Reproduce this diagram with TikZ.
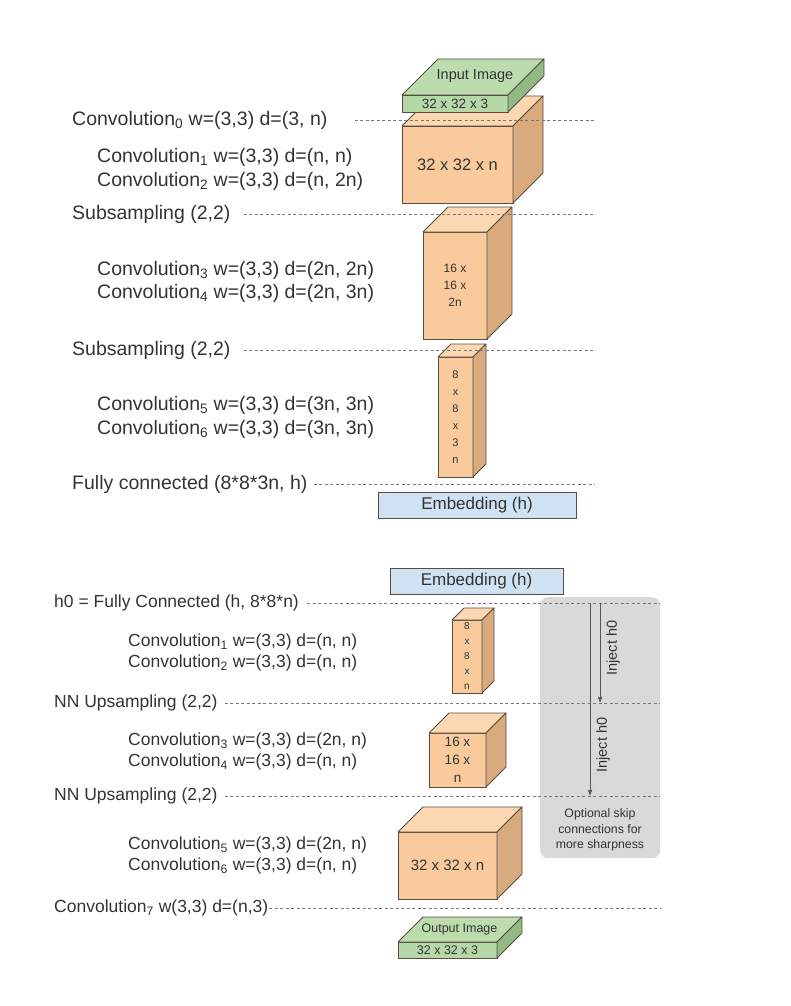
\documentclass[tikz,border=0pt]{standalone}
\usepackage{fontspec}
\setmainfont{Liberation Sans}
\usetikzlibrary{arrows,positioning}
\definecolor{txt}{HTML}{333333}
\definecolor{edgec}{HTML}{5A4D40}
\definecolor{dashc}{HTML}{777777}
\definecolor{orangefront}{HTML}{F9CB9C}
\definecolor{orangetop}{HTML}{FBD7B2}
\definecolor{orangeside}{HTML}{D8AA7E}
\definecolor{greenfront}{HTML}{B6D7A8}
\definecolor{greentop}{HTML}{BCDCAE}
\definecolor{greenside}{HTML}{93B985}
\definecolor{embfill}{HTML}{CFE2F3}
\definecolor{panelc}{HTML}{D9D9D9}
\definecolor{injc}{HTML}{555555}
\newcommand{\sub}[1]{\textsubscript{#1}}
% name, x, y, width, height, depth, colour, font, text
\newcommand{\convbox}[9]{%
\node[front, fill=#7front, minimum width=#4pt, minimum height=#5pt, font={#8}] (#1) at (#2,#3) {#9};
\draw[face, fill=#7top] (#1.north west) -- ++(#6,-#6) -- ++(#4,0) -- (#1.north east) -- cycle;
\draw[face, fill=#7side] (#1.north east) -- ++(#6,-#6) -- ++(0,#5) -- (#1.south east) -- cycle;
}
\tikzset{
front/.style={draw=edgec, line width=0.8pt, anchor=north west, inner sep=0pt, outer sep=0pt, align=center, text=txt},
face/.style={draw=edgec, line width=0.8pt, line join=round},
sep/.style={draw=dashc, line width=0.9pt, dash pattern=on 3pt off 2.5pt},
lbl/.style={anchor=west, inner sep=0pt, text=txt},
toplbl/.style={lbl, font=\fontsize{19.5}{22}\selectfont},
botlbl/.style={lbl, font=\fontsize{17.5}{20}\selectfont},
emb/.style={draw=edgec, fill=embfill, line width=0.8pt, inner sep=0pt, outer sep=0pt, anchor=north west, text=txt, font=\fontsize{17}{20}\selectfont},
inj/.style={draw=injc, line width=0.9pt, ->},
}
\begin{document}
\begin{tikzpicture}[x=1pt,y=-1pt,>=stealth']
\useasboundingbox (0,0) rectangle (790,1006);

% encoder
\convbox{big}{402}{126}{111}{77}{30}{orange}{\fontsize{16.5}{20}\selectfont}{32 x 32 x n}
\convbox{img}{402}{95}{106}{17}{36}{green}{\fontsize{13.5}{16}\selectfont}{32 x 32 x 3}
\node[text=txt, font=\fontsize{14.5}{17}\selectfont] (imgtxt) at ([shift={(20,-19)}]img.north) {Input Image};
\convbox{mid}{423}{232}{64}{107}{25}{orange}{\fontsize{12}{17}\selectfont}{16 x\\16 x\\2n}
\convbox{small}{438}{357}{35}{120}{13}{orange}{\fontsize{11}{17}\selectfont}{8\\x\\8\\x\\3\\n}
\node[emb, minimum width=198pt, minimum height=26pt] (emb1) at (378,492) {Embedding (h)};

\coordinate (rend) at (595,0);
\node[toplbl] (c0) at (72,120) {Convolution\sub{0} w=(3,3) d=(3, n)};
\node[toplbl] (c1) at (97,157) {Convolution\sub{1} w=(3,3) d=(n, n)};
\node[toplbl] (c2) at (97,181) {Convolution\sub{2} w=(3,3) d=(n, 2n)};
\node[toplbl] (s1) at (72,214) {Subsampling (2,2)};
\node[toplbl] (c3) at (97,270) {Convolution\sub{3} w=(3,3) d=(2n, 2n)};
\node[toplbl] (c4) at (97,293) {Convolution\sub{4} w=(3,3) d=(2n, 3n)};
\node[toplbl] (s2) at (72,350) {Subsampling (2,2)};
\node[toplbl] (c5) at (97,405) {Convolution\sub{5} w=(3,3) d=(3n, 3n)};
\node[toplbl] (c6) at (97,429) {Convolution\sub{6} w=(3,3) d=(3n, 3n)};
\node[toplbl] (fc) at (72,484) {Fully connected (8*8*3n, h)};

\draw[sep] ([xshift=27pt]c0.east) -- (c0.east -| rend);
\draw[sep] ([xshift=13pt]s1.east) -- (s1.east -| rend);
\draw[sep] ([xshift=13pt]s2.east) -- (s2.east -| rend);
\draw[sep] ([xshift=6pt]fc.east) -- (fc.east -| rend);

% decoder
\node[anchor=north west, fill=panelc, rounded corners=8pt, minimum width=120pt, minimum height=261pt, inner sep=0pt] (skip) at (540,597) {};
\node[text=txt, align=center, font=\fontsize{12.3}{15.5}\selectfont] (skiptxt) at (600,830) {Optional skip\\connections for\\more sharpness};

\node[emb, minimum width=173pt, minimum height=26pt] (emb2) at (390,568) {Embedding (h)};
\convbox{dsmall}{452}{620}{30}{73}{12}{orange}{\fontsize{10}{15}\selectfont}{8\\x\\8\\x\\n}
\convbox{dmid}{429}{733}{57}{54}{20}{orange}{\fontsize{13.5}{18}\selectfont}{16 x\\16 x\\n}
\convbox{dbig}{398}{832}{99}{67}{25}{orange}{\fontsize{15}{18}\selectfont}{32 x 32 x n}
\convbox{out}{398}{942}{99}{16}{25}{green}{\fontsize{12.5}{15}\selectfont}{32 x 32 x 3}
\node[text=txt, font=\fontsize{12.5}{15}\selectfont] (outtxt) at ([shift={(12,-13)}]out.north) {Output Image};

\coordinate (rend2) at (660,0);
\node[botlbl] (h0) at (54,603) {h0 = Fully Connected (h, 8*8*n)};
\node[botlbl] (d1) at (128,642) {Convolution\sub{1} w=(3,3) d=(n, n)};
\node[botlbl] (d2) at (128,663) {Convolution\sub{2} w=(3,3) d=(n, n)};
\node[botlbl] (u1) at (54,703) {NN Upsampling (2,2)};
\node[botlbl] (d3) at (128,741) {Convolution\sub{3} w=(3,3) d=(2n, n)};
\node[botlbl] (d4) at (128,762) {Convolution\sub{4} w=(3,3) d=(n, n)};
\node[botlbl] (u2) at (54,796) {NN Upsampling (2,2)};
\node[botlbl] (d5) at (128,845) {Convolution\sub{5} w=(3,3) d=(2n, n)};
\node[botlbl] (d6) at (128,866) {Convolution\sub{6} w=(3,3) d=(n, n)};
\node[botlbl] (c7) at (54,908) {Convolution\sub{7} w(3,3) d=(n,3)};

\draw[sep] ([xshift=8pt]h0.east) -- (h0.east -| rend2);
\draw[sep] ([xshift=7pt]u1.east) -- (u1.east -| rend2);
\draw[sep] ([xshift=7pt]u2.east) -- (u2.east -| rend2);
\draw[sep] ([xshift=1pt]c7.east) -- (c7.east -| rend2);

\coordinate (i1s) at (600,603);
\coordinate (i1e) at (600,702);
\coordinate (i2s) at (590,603);
\coordinate (i2e) at (590,795);
\draw[inj] (i1s) -- (i1e);
\draw[inj] (i2s) -- (i2e);
\node[rotate=90, text=txt, font=\fontsize{14.5}{17}\selectfont] (inj1) at (613,648) {Inject h0};
\node[rotate=90, text=txt, font=\fontsize{14.5}{17}\selectfont] (inj2) at (603,745) {Inject h0};

\end{tikzpicture}
\end{document}
